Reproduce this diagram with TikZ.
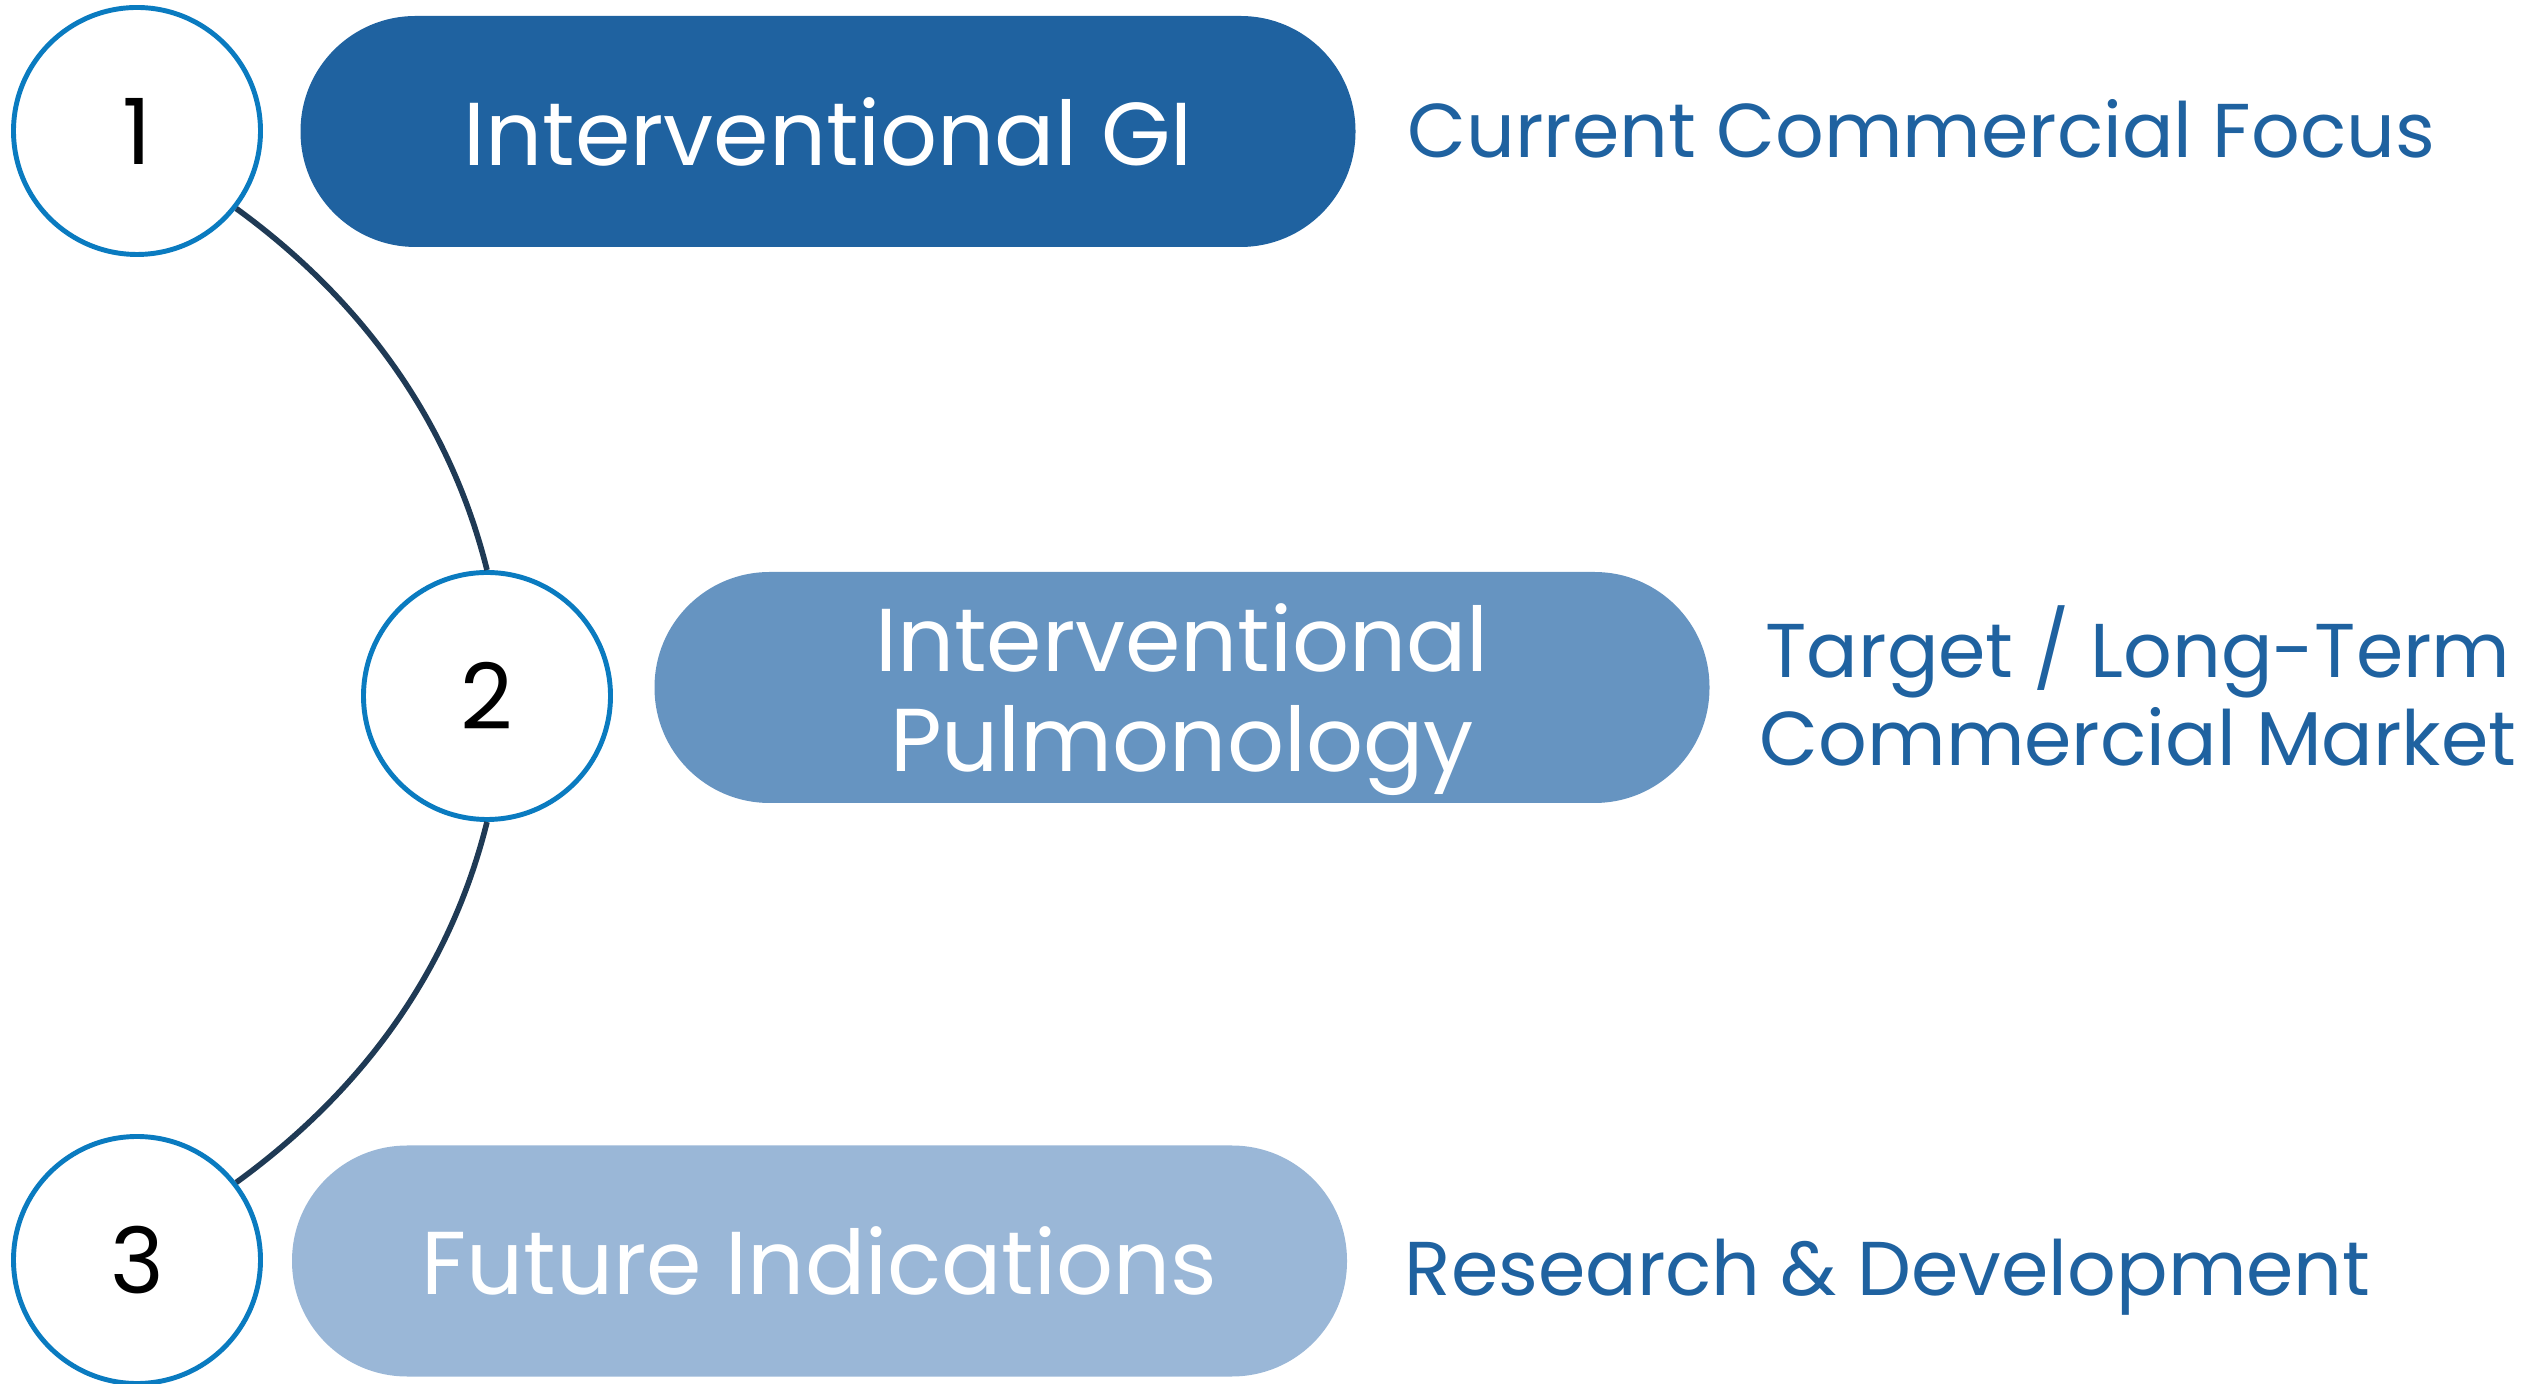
\documentclass[tikz,border=0pt]{standalone}
\usepackage{fontspec}
\setmainfont{Poppins}
\usetikzlibrary{positioning}
\definecolor{ringblue}{HTML}{0A7BC0}
\definecolor{linknavy}{HTML}{1F3A55}
\definecolor{gidark}{HTML}{1F62A0}
\definecolor{pulmid}{HTML}{6694C1}
\definecolor{futlight}{HTML}{9AB7D7}
\definecolor{labelblue}{HTML}{1F62A0}

\begin{document}
\begin{tikzpicture}
            \tikzstyle{ring}=[circle, draw=ringblue, line width=1.4pt, fill=white, minimum size=2.47cm, inner sep=0pt, font=\fontsize{26}{26}\selectfont]
            \tikzstyle{pill}=[rectangle, rounded corners=1.15cm, minimum width=10.55cm, minimum height=2.31cm, text=white, align=center, inner sep=0pt, font=\fontsize{25.4}{28.3}\selectfont]
            \tikzstyle{stage}=[text=labelblue, inner sep=0pt, font=\fontsize{21.7}{25}\selectfont]
            \tikzstyle{link}=[line width=1.6pt, linknavy, looseness=0.9]

            \useasboundingbox (0,0) rectangle (25.27,13.83);

            % pills
            \node[pill, fill=gidark] (gi) at (8.28,12.515) {Interventional GI};
            \node[pill, fill=pulmid, text depth=0pt] (pulmo) at (11.82,6.955) {Interventional\\Pulmonology};
            \node[pill, fill=futlight] (future) at (8.195,1.22) {Future Indications};

            % numbered rings
            \node[ring] (n1) at (1.37,12.52) {1};
            \node[ring] (n2) at (4.87,6.87) {2};
            \node[ring] (n3) at (1.37,1.23) {3};

            % links between rings
            \draw[link] (n1.-38) to[out=-36,in=104] (n2.north);
            \draw[link] (n2.south) to[out=-104,in=36] (n3.38);

            % stage labels
            \node[stage, anchor=west] (focus) at (14.07,12.54) {Current Commercial Focus};
            \node[stage, align=center] (market) at (21.38,6.97) {Target / Long-Term\\Commercial Market};
            \node[stage, anchor=west] (research) at (14.04,1.06) {Research \& Development};
        \end{tikzpicture}
\end{document}
